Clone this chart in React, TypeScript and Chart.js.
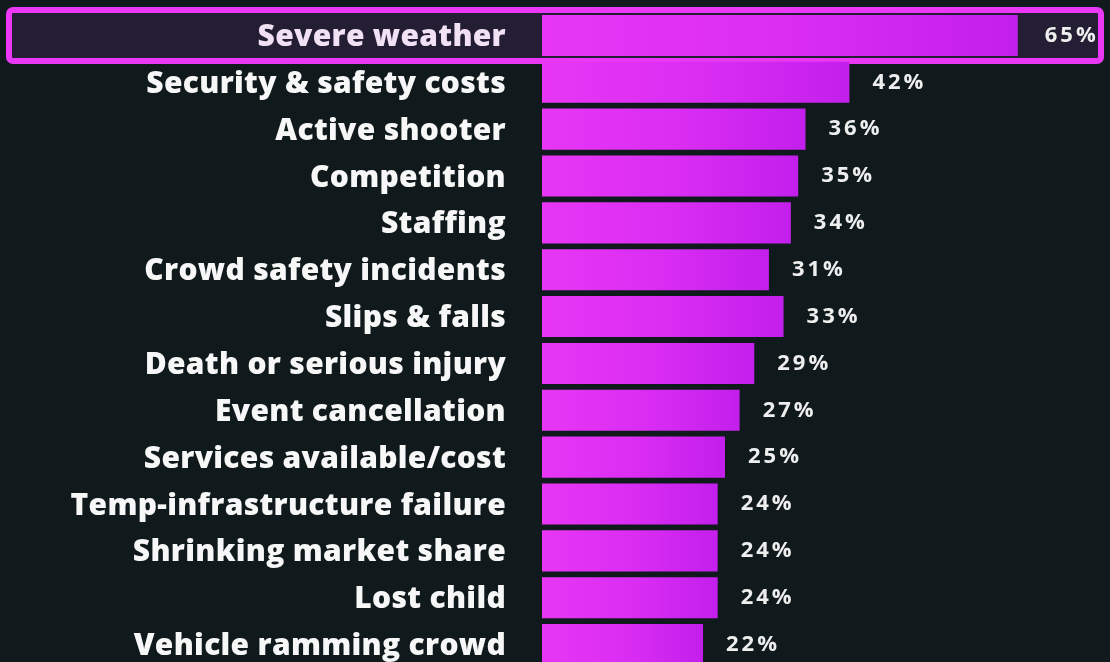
import React, { useEffect, useRef } from "react";
import { Chart, registerables } from "chart.js";

Chart.register(...registerables);

const categories = [
  "Severe weather",
  "Security & safety costs",
  "Active shooter",
  "Competition",
  "Staffing",
  "Crowd safety incidents",
  "Slips & falls",
  "Death or serious injury",
  "Event cancellation",
  "Services available/cost",
  "Temp-infrastructure failure",
  "Shrinking market share",
  "Lost child",
  "Vehicle ramming crowd",
];
const values = [65, 42, 36, 35, 34, 31, 33, 29, 27, 25, 24, 24, 24, 22];
const valueLabels = values.map((v) => v + "%");
const highlightIndex = 0;
const xMax = 77.6;

const BG = "#101a1c";
const BOX_FILL = "#231e33";
const BOX_STROKE = "#ea38f6";
const LABEL_FONT = "'Open Sans', sans-serif";

const decorPlugin = {
  id: "decor",
  beforeDraw(chart: any) {
    const { ctx, width, height } = chart;
    ctx.save();
    ctx.fillStyle = BG;
    ctx.fillRect(0, 0, width, height);
    const y = chart.scales.y;
    const cy = y.getPixelForValue(highlightIndex);
    const lw = 6;
    const top = cy - 28.5 + lw / 2;
    const bottom = cy + 28.5 - lw / 2;
    const left = 6 + lw / 2;
    const right = 1104 - lw / 2;
    ctx.beginPath();
    (ctx as any).roundRect(left, top, right - left, bottom - top, 4);
    ctx.fillStyle = BOX_FILL;
    ctx.fill();
    ctx.lineWidth = lw;
    ctx.strokeStyle = BOX_STROKE;
    ctx.stroke();
    ctx.restore();
    (ctx as any).letterSpacing = "0.3px";
  },
  beforeDatasetsDraw(chart: any) {
    (chart.ctx as any).letterSpacing = "0px";
  },
  afterDatasetsDraw(chart: any) {
    const { ctx } = chart;
    const meta = chart.getDatasetMeta(0);
    ctx.save();
    ctx.font = "bold 22px 'Open Sans', sans-serif";
    (ctx as any).letterSpacing = "3px";
    ctx.fillStyle = "#eeeeee";
    ctx.textAlign = "left";
    ctx.textBaseline = "middle";
    meta.data.forEach((bar: any, i: number) => {
      const extra = i === highlightIndex ? 27 : 23;
      ctx.fillText(valueLabels[i], bar.x + extra, bar.y);
    });
    ctx.restore();
    (ctx as any).letterSpacing = "0px";
  },
};

export default function App() {
  const ref = useRef<HTMLCanvasElement | null>(null);
  useEffect(() => {
    const canvas = ref.current!;
    const chart = new Chart(canvas, {
      type: "bar",
      data: {
        labels: categories,
        datasets: [
          {
            data: values,
            barPercentage: 0.876,
            categoryPercentage: 1,
            borderWidth: 0,
            backgroundColor: (c: any) => {
              const ch = c.chart;
              const xs = ch.scales?.x;
              if (!xs || !ch.chartArea) return "#dd2ef3";
              const v = values[c.dataIndex] ?? 0;
              const x0 = xs.getPixelForValue(0);
              const x1 = xs.getPixelForValue(v);
              const g = ch.ctx.createLinearGradient(x0, 0, x1, 0);
              g.addColorStop(0, "#e736f5");
              g.addColorStop(0.5, "#db2ef3");
              g.addColorStop(1, "#c31fec");
              return g;
            },
          },
        ],
      },
      options: {
        indexAxis: "y",
        animation: false,
        responsive: false,
        maintainAspectRatio: false,
        layout: { padding: { top: 12, bottom: 0, left: 0, right: 0 } },
        plugins: {
          legend: { display: false },
          tooltip: { enabled: false },
        },
        scales: {
          x: {
            display: false,
            min: 0,
            max: xMax,
          },
          y: {
            grid: { display: false, drawTicks: false },
            border: { display: false },
            afterFit: (s: any) => {
              s.width = 542;
              s.paddingTop = 0;
              s.paddingBottom = 0;
            },
            ticks: {
              padding: 36,
              labelOffset: 2,
              color: (c: any) => (c.index === highlightIndex ? "#f2e0f4" : "#f7f7f7"),
              font: { family: LABEL_FONT, size: 30, weight: 800 },
            },
          },
        },
      },
      plugins: [decorPlugin],
    });
    return () => chart.destroy();
  }, []);
  return (
    <div style={{ position: "fixed", left: 0, top: 0, width: 1110, height: 668, background: BG }}>
      <canvas ref={ref} width={1110} height={668} style={{ display: "block", width: 1110, height: 668 }} />
    </div>
  );
}
